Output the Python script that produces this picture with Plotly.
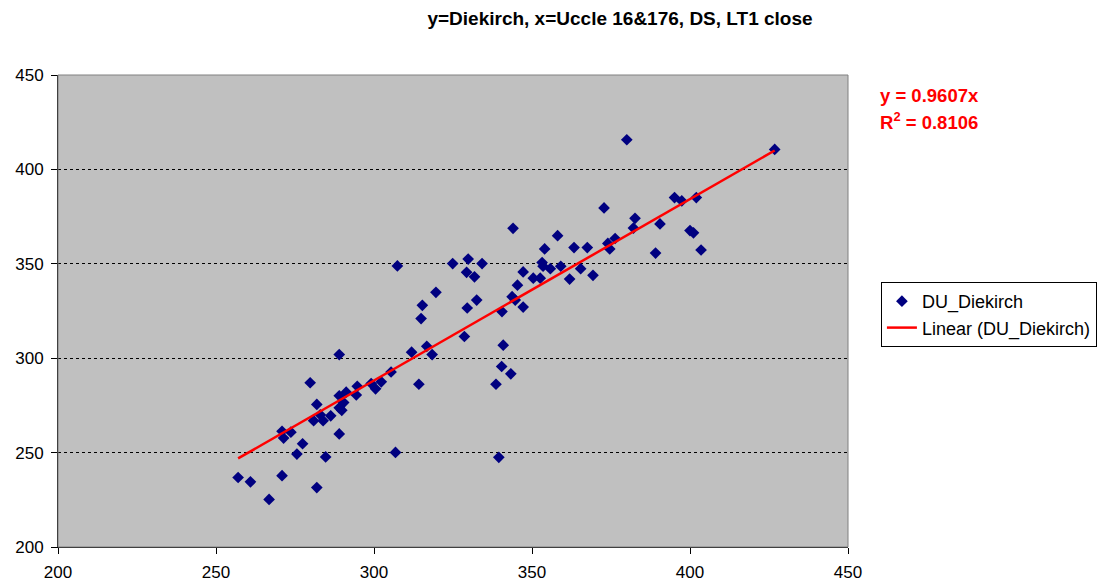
import plotly.graph_objects as go

uccle = [257.0, 260.9, 266.8, 270.9, 270.9, 271.4, 273.7, 275.6, 277.4, 279.8,
         280.9, 281.9, 281.9, 283.0, 283.9, 284.7, 286.3, 289.0, 289.0, 289.0,
         289.0, 289.8, 290.4, 291.2, 294.4, 294.7, 299.1, 300.5, 302.3, 305.4,
         306.8, 307.4, 311.9, 314.2, 314.9, 315.3, 316.7, 318.4, 319.6, 324.9,
         328.6, 329.3, 329.5, 329.8, 331.8, 332.5, 334.2, 338.6, 339.5, 340.4,
         340.5, 340.9, 343.3, 343.7, 344.0, 344.7, 345.4, 347.2, 347.2, 350.4,
         352.6, 353.2, 353.5, 354.0, 355.8, 358.1, 359.1, 361.9, 363.3, 365.4,
         367.5, 369.3, 372.8, 374.0, 374.6, 376.3, 380.0, 382.1, 382.6, 389.1,
         390.5, 395.1, 397.4, 400.0, 401.1, 402.0, 403.5, 426.8]
diekirch = [236.8, 234.5, 225.2, 237.8, 261.3, 257.7, 260.8, 249.2, 254.7, 287.0,
            266.9, 275.5, 231.5, 270.0, 266.9, 247.7, 269.5, 301.9, 280.1, 273.7,
            259.9, 272.4, 276.5, 282.0, 280.5, 285.1, 286.6, 283.8, 287.5, 292.7,
            250.1, 348.9, 303.2, 286.2, 321.0, 328.0, 306.3, 301.9, 334.9, 350.1,
            311.5, 345.5, 326.6, 352.5, 343.1, 330.8, 350.1, 286.2, 247.5, 295.6,
            324.7, 306.9, 291.7, 332.6, 368.8, 330.8, 338.7, 327.1, 345.7, 342.4,
            342.4, 350.7, 348.7, 357.9, 347.4, 364.9, 348.7, 341.9, 358.6, 347.4,
            358.6, 343.9, 379.6, 360.8, 357.9, 363.4, 415.7, 368.9, 374.1, 355.7,
            371.1, 385.1, 383.3, 367.6, 366.4, 385.1, 357.3, 410.6]
slope = 0.9607
r_squared = 0.8106
x_ticks = [200, 250, 300, 350, 400, 450]
y_ticks = [200, 250, 300, 350, 400, 450]

trend_x = [min(uccle), max(uccle)]
trend_y = [slope * v for v in trend_x]

FONT = "Liberation Sans, Arial, sans-serif"

fig = go.Figure()
fig.add_trace(go.Scatter(
    x=uccle, y=diekirch, mode="markers", name="DU_Diekirch",
    marker=dict(symbol="diamond", color="#000080", size=9, line=dict(width=0)),
))
fig.add_trace(go.Scatter(
    x=trend_x, y=trend_y, mode="lines", name="Linear (DU_Diekirch)",
    line=dict(color="#ff0000", width=2.5),
))

axis_font = dict(family=FONT, size=17, color="black")
# page body has an 8px margin; figure sized so the plot area lands at 58..850 x 75..547
fig.update_layout(
    width=1101, height=579,
    margin=dict(l=50, r=259, t=67, b=40),
    paper_bgcolor="white",
    plot_bgcolor="#c0c0c0",
    title=dict(
        text="<b>y=Diekirch, x=Uccle 16&176, DS, LT1 close</b>",
        x=612 / 1101, xanchor="center", y=1 - 10 / 579, yanchor="middle",
        font=dict(family=FONT, size=19, color="black"),
    ),
    xaxis=dict(
        range=[200, 450], tickvals=x_ticks, ticktext=[str(t) for t in x_ticks],
        showgrid=False, zeroline=False, automargin=False,
        showline=True, linecolor="black", linewidth=1,
        ticks="outside", ticklen=6, tickcolor="black",
        tickfont=axis_font, ticklabelstandoff=4,
    ),
    yaxis=dict(
        range=[200, 450], tickvals=y_ticks, ticktext=[str(t) for t in y_ticks],
        showgrid=True, gridcolor="black", gridwidth=1, griddash="3px,3px",
        zeroline=False, automargin=False,
        showline=True, linecolor="black", linewidth=1,
        ticks="outside", ticklen=6, tickcolor="black",
        tickfont=axis_font, ticklabelstandoff=4,
    ),
    legend=dict(
        x=(883 - 58) / 792, y=(547 - 282) / 472, xanchor="left", yanchor="top",
        bordercolor="black", borderwidth=1, bgcolor="white",
        font=dict(family=FONT, size=18, color="black"),
        tracegroupgap=0,
    ),
    showlegend=True,
)

fig.add_shape(type="rect", xref="paper", yref="paper", x0=0, y0=0, x1=1, y1=1,
              line=dict(color="#808080", width=1), layer="above")

fig.add_annotation(
    xref="paper", yref="paper", x=(880 - 58) / 792, y=(547 - 95) / 472,
    xanchor="left", yanchor="middle", align="left", showarrow=False,
    text=f"<b>y = {slope}x</b>",
    font=dict(family=FONT, size=18.5, color="#ff0000"),
)
fig.add_annotation(
    xref="paper", yref="paper", x=(880 - 58) / 792, y=(547 - 121) / 472,
    xanchor="left", yanchor="middle", align="left", showarrow=False,
    text=f"<b>R<sup>2</sup> = {r_squared}</b>",
    font=dict(family=FONT, size=18.5, color="#ff0000"),
)

fig.write_html("out.html")
